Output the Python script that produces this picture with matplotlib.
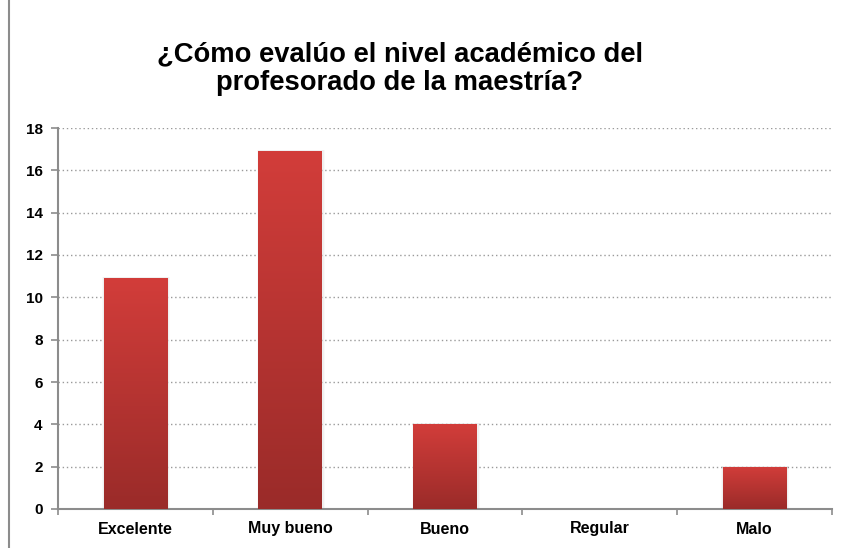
import matplotlib

matplotlib.use("Agg")

import matplotlib.pyplot as plt
import numpy as np
from matplotlib.lines import Line2D

categories = ["Excelente", "Muy bueno", "Bueno", "Regular", "Malo"]
values = [10.9, 16.9, 4.0, 0.0, 2.0]
yticks = [0, 2, 4, 6, 8, 10, 12, 14, 16, 18]
title = "¿Cómo evalúo el nivel académico del\nprofesorado de la maestría?"

TOP_COLOR = np.array([0xD2, 0x3D, 0x3A]) / 255
BOTTOM_COLOR = np.array([0x9A, 0x2B, 0x29]) / 255
SPINE = "#8c8c8c"

plt.rcParams["font.family"] = ["Liberation Sans", "DejaVu Sans"]

fig = plt.figure(figsize=(8.48, 5.48), dpi=100)
ax = fig.add_axes([58 / 848, 1 - 509 / 548, (832 - 58) / 848, (509 - 128) / 548])

x = np.arange(len(categories))
bars = ax.bar(x, values, width=0.41, color="none", edgecolor="none", zorder=3)

# vertical gradient for each bar, clipped to the bar
grad = np.linspace(0, 1, 256)[:, None, None]
img = BOTTOM_COLOR * (1 - grad) + TOP_COLOR * grad
for b in bars:
    if b.get_height() <= 0:
        continue
    x0, y0 = b.get_x(), b.get_y()
    x1, y1 = x0 + b.get_width(), y0 + b.get_height()
    # soft shadow
    for grow, alpha in [(0.03, 0.025), (0.016, 0.035)]:
        ax.bar(b.get_x() + b.get_width() / 2 + 0.004, b.get_height() + 0.05,
               width=b.get_width() + grow, color="#000000", alpha=alpha, zorder=2)
    im = ax.imshow(img, extent=[x0, x1, y0, y1], origin="lower", aspect="auto", zorder=3)
    im.set_clip_path(b)

ax.set_xlim(-0.5, len(categories) - 0.5)
ax.set_ylim(0, 18)
ax.set_yticks(yticks)
ax.set_yticklabels([str(v) for v in yticks], fontsize=11, fontweight="bold")
ax.set_xticks(x)
ax.set_xticklabels(categories, fontsize=11.5, fontweight="bold")
ax.set_xticks(np.arange(-0.5, len(categories), 1.0), minor=True)
ax.tick_params(axis="x", which="major", length=0, pad=9)
ax.tick_params(axis="x", which="minor", length=4, color=SPINE, width=1.2, direction="out")
ax.tick_params(axis="y", length=5, color=SPINE, width=1.2, pad=6)

ax.grid(axis="y", linestyle=(0, (1, 2)), color="#9a9a9a", linewidth=1.0, zorder=0)
ax.set_axisbelow(True)
for side in ("top", "right"):
    ax.spines[side].set_visible(False)
for side in ("left", "bottom"):
    ax.spines[side].set_color(SPINE)
    ax.spines[side].set_linewidth(1.5)

fig.text(400 / 848, 1 - 69 / 548, title, ha="center", va="center", fontsize=19.7,
         fontweight="bold", linespacing=1.12)

# left edge of the chart frame
fig.add_artist(Line2D([9 / 848, 9 / 848], [0, 1], color=SPINE, linewidth=1.5))

fig.savefig("out.png", dpi=100)
